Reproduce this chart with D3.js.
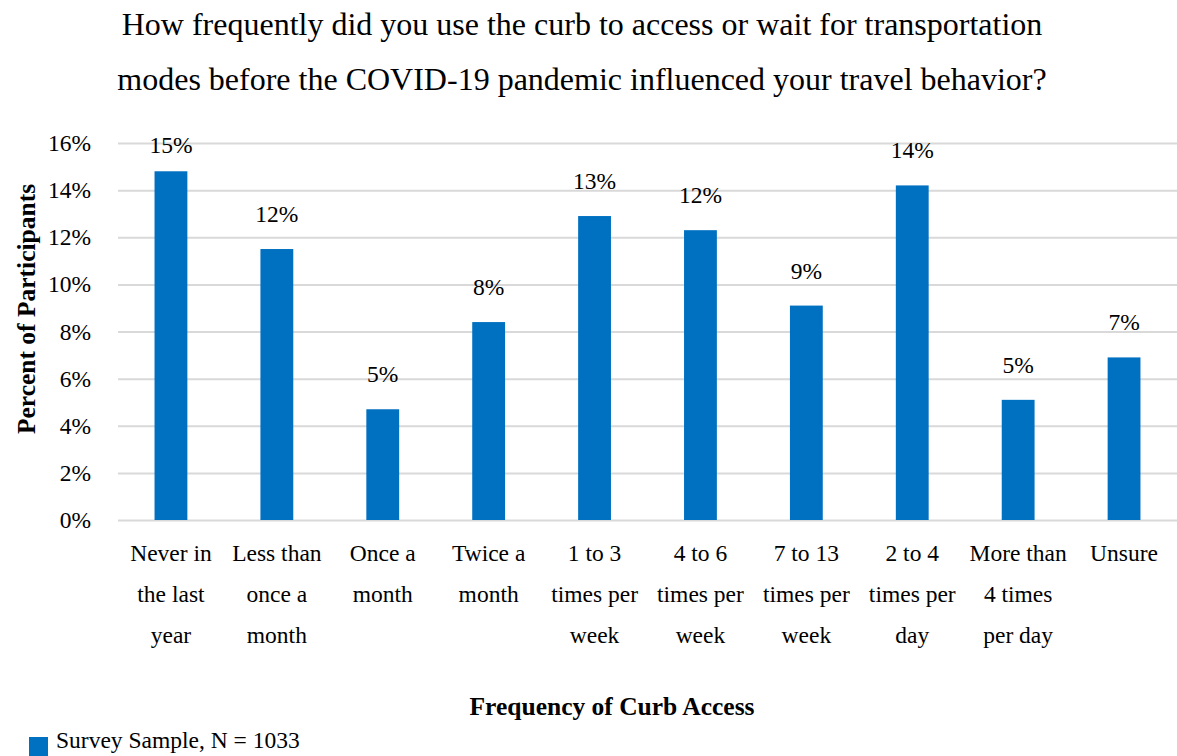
<!DOCTYPE html>
<html>
<head>
<meta charset="utf-8">
<script src="https://cdn.jsdelivr.net/npm/d3@7"></script>
<style>
  html, body { margin: 0; padding: 0; background: #fff; }
  svg { display: block; font-family: "Liberation Serif", "Times New Roman", serif; }
</style>
</head>
<body>
<svg id="chart" width="1177" height="756"></svg>
<script>
// Curb use frequency before COVID-19 (survey sample, N = 1033)
const categories = [
  ["Never in", "the last", "year"],
  ["Less than", "once a", "month"],
  ["Once a", "month"],
  ["Twice a", "month"],
  ["1 to 3", "times per", "week"],
  ["4 to 6", "times per", "week"],
  ["7 to 13", "times per", "week"],
  ["2 to 4", "times per", "day"],
  ["More than", "4 times", "per day"],
  ["Unsure"]
];
const percentValues = [14.8, 11.5, 4.7, 8.4, 12.9, 12.3, 9.1, 14.2, 5.1, 6.9];
const yTicks = [0, 2, 4, 6, 8, 10, 12, 14, 16];
const titleLines = [
  "How frequently did you use the curb to access or wait for transportation",
  "modes before the COVID-19 pandemic influenced your travel behavior?"
];
const yAxisTitle = "Percent of Participants";
const xAxisTitle = "Frequency of Curb Access";
const legendLabel = "Survey Sample, N = 1033";

const barColor = "#0070C0";
const gridColor = "#D9D9D9";
const textColor = "#000";
const fontStack = "Liberation Serif, Times New Roman, serif";

const svg = d3.select("#chart");
const W = 1177, H = 756;
const margin = { left: 118, right: 0, top: 143, bottom: 236 };
const plotW = W - margin.left - margin.right;
const plotH = H - margin.top - margin.bottom;

const keys = categories.map((c, i) => i);
const x = d3.scaleBand().domain(keys).range([margin.left, margin.left + plotW]).paddingInner(0.69).paddingOuter(0.345);
const y = d3.scaleLinear().domain([0, 16]).range([margin.top + plotH, margin.top]);

// Title
svg.append("g").selectAll("text").data(titleLines).join("text")
  .attr("x", 582).attr("y", (d, i) => 35 + i * 55)
  .attr("text-anchor", "middle")
  .attr("font-size", 32)
  .attr("fill", textColor)
  .text(d => d);

// Gridlines and y tick labels
const yAxis = d3.axisLeft(y).tickValues(yTicks).tickSize(-plotW).tickPadding(27)
  .tickFormat(d => d + "%");
const gy = svg.append("g").attr("transform", `translate(${margin.left},0)`).call(yAxis);
gy.select(".domain").remove();
gy.selectAll(".tick line").attr("stroke", gridColor).attr("stroke-width", 2);
gy.selectAll(".tick text").attr("font-size", 23.5).attr("fill", textColor)
  .attr("font-family", fontStack);

// Bars
svg.append("g").selectAll("rect").data(percentValues).join("rect")
  .attr("x", (d, i) => x(i))
  .attr("width", x.bandwidth())
  .attr("y", d => y(d))
  .attr("height", d => y(0) - y(d))
  .attr("fill", barColor);

// Value labels (kept inside the plot area)
const labelTopLimit = y(16) + 10;
svg.append("g").selectAll("text").data(percentValues).join("text")
  .attr("x", (d, i) => x(i) + x.bandwidth() / 2)
  .attr("y", d => Math.max(y(d) - 27, labelTopLimit))
  .attr("text-anchor", "middle")
  .attr("font-size", 23.5)
  .attr("fill", textColor)
  .text(d => Math.round(d) + "%");

// Category labels
const xAxis = d3.axisBottom(x).tickSize(0).tickFormat("");
const gx = svg.append("g").attr("transform", `translate(0,${y(0)})`).call(xAxis);
gx.select(".domain").remove();
gx.selectAll(".tick").each(function (i) {
  d3.select(this).selectAll("text.cat").data(categories[i]).join("text")
    .attr("class", "cat")
    .attr("x", 0)
    .attr("y", (d, j) => 41 + j * 41)
    .attr("text-anchor", "middle")
    .attr("font-size", 23.5)
    .attr("font-family", fontStack)
    .attr("fill", textColor)
    .text(d => d);
});

// Axis titles
svg.append("text")
  .attr("transform", `translate(35,${309}) rotate(-90)`)
  .attr("text-anchor", "middle")
  .attr("font-size", 25.5).attr("font-weight", "bold")
  .attr("fill", textColor)
  .text(yAxisTitle);

svg.append("text")
  .attr("x", 612).attr("y", 715)
  .attr("text-anchor", "middle")
  .attr("font-size", 25.5).attr("font-weight", "bold")
  .attr("fill", textColor)
  .text(xAxisTitle);

// Legend
const legend = svg.append("g").attr("transform", "translate(29,737)");
legend.append("rect").attr("width", 19).attr("height", 19).attr("fill", barColor);
legend.append("text").attr("x", 27).attr("y", 11).attr("font-size", 23.5)
  .attr("fill", textColor).text(legendLabel);
</script>
</body>
</html>
